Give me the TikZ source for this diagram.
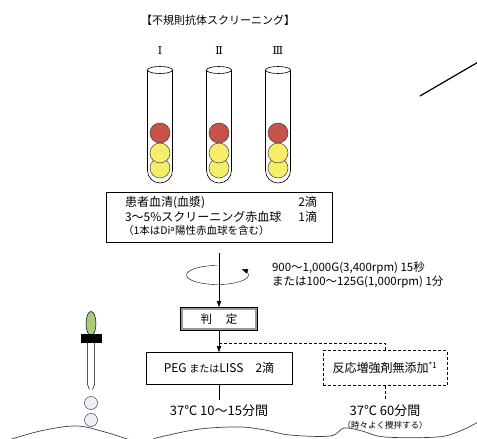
\documentclass[tikz,border=0pt]{standalone}
\usepackage{fontspec}
\setmainfont{Noto Sans CJK JP}
\newfontfamily\numeralfont{DejaVu Serif}
\usetikzlibrary{arrows.meta,fit,positioning,shapes.geometric}
\definecolor{cellred}{RGB}{198,82,72}
\definecolor{cellyellow}{RGB}{246,238,104}
\definecolor{bulbgreen}{RGB}{168,202,122}
\definecolor{dropfill}{RGB}{236,241,247}
\tikzset{
  node distance=0mm,
  >={Triangle[length=6pt,width=4.5pt]},
  every node/.style={outer sep=0mm,inner sep=0mm}
}
\tikzset{listrow/.style={
    text width=196pt,
    minimum height=14pt,
    font=\fontsize{12}{14}\selectfont
  }}
\tikzset{stepbox/.style={
    draw,
    minimum width=#1,
    minimum height=32pt,
    align=center,
    font=\fontsize{12}{14}\selectfont
  },
  stepbox/.default=146pt}
\tikzset{optbox/.style={
    stepbox=#1,
    minimum height=35pt,
    dash pattern=on 3pt off 2pt
  },
  optbox/.default=124pt}
\tikzset{judgebox/.style={
    draw,line width=0.6pt,
    double=black!40,double distance=2pt,
    outer sep=1.6pt,
    minimum width=74.8pt,minimum height=20.8pt,
    font=\fontsize{11.5}{14}\selectfont
  }}
\tikzset{cell/.style={
    circle,draw=black!75,line width=0.5pt,
    fill=#1,minimum size=20pt
  }}
\tikzset{drop/.style={
    circle,draw=black!75,line width=0.5pt,
    fill=dropfill,minimum size=13pt
  }}
\tikzset{note/.style={
    align=#1,
    inner ysep=5pt,
    font=\fontsize{13}{13}\selectfont
  },
  note/.default=center}
\begin{document}
\begin{tikzpicture}[x=1pt,y=1pt]
  \useasboundingbox (0,0) rectangle (477,-439);

  \node (Title) at (218,-20) {\fontsize{11}{13}\selectfont 【不規則抗体スクリーニング】};

  \foreach \x/\n/\r in {160/I/Ⅰ,219/II/Ⅱ,278/III/Ⅲ}{
    \node (Label_\n) at (\x,-50) {\numeralfont\fontsize{11}{13}\selectfont \r};
    \draw [line width=0.6pt,fill=white]
      (\x-12.5,-70) -- (\x-12.5,-170.5)
      arc[start angle=180,end angle=360,radius=12.5]
      -- (\x+12.5,-70);
    \draw [line width=0.6pt] (\x,-70) ellipse[x radius=12.5,y radius=3.5];
    \node (Cell_\n_low) [cell=cellyellow] at (\x,-168) {};
    \node (Cell_\n_mid) [cell=cellyellow] at (\x,-153) {};
    \node (Cell_\n_top) [cell=cellred] at (\x,-133) {};
  }

  \node (Serum) [listrow] at (219,-203) {\hspace*{4pt}患者血清(血漿)\hfill 2滴};
  \node (Screen_cells) [listrow,below=0mm of Serum] {\hspace*{4pt}3～5\%スクリーニング赤血球\hfill 1滴};
  \node (Di_note) [listrow,below=0mm of Screen_cells,font=\fontsize{10.5}{12}\selectfont] {\hspace*{2pt}（1本はDi\textsuperscript{a}陽性赤血球を含む）};
  \node (Serum_box) [draw,line width=0.5pt,inner xsep=15pt,inner ysep=4pt,fit=(Serum) (Di_note)] {};

  \coordinate (Spin_top) at (219,-253);
  \coordinate (Spin_axis) at (217.5,-275);
  \node (Judge) [judgebox,below=54pt of Spin_top] {判\hspace{1.2em}定};
  \draw [->] ([yshift=9.5pt] Spin_axis) arc[start angle=90,end angle=398,x radius=31,y radius=9.5];
  \draw [->] (Spin_top) -- (Judge);
  \node (Spin_note) [note=left,inner ysep=0pt,right=54.5pt of Spin_axis,font=\fontsize{11.5}{14}\selectfont]
    {900～1,000G(3,400rpm) 15秒\\または100～125G(1,000rpm) 1分};

  \node (PEG_box) [stepbox,below=21pt of Judge] {PEG {\fontsize{10}{12}\selectfont または}LISS\hspace{1em}2滴};
  \node (Enhancer_box) [optbox,right=31pt of PEG_box] {反応増強剤無添加\textsuperscript{*1}};
  \coordinate (Branch) at ([yshift=-12pt] Judge.south);
  \draw [->] (Judge) -- (PEG_box);
  \draw [dash pattern=on 3pt off 2pt] (Branch) -| (Enhancer_box.north);

  \node (Incub_short) [note,below=16pt of PEG_box] {37℃ 10～15分間};
  \node (Incub_long) [note,below=14.5pt of Enhancer_box]
    {37℃ 60分間\\{\fontsize{8.5}{10}\selectfont （時々よく攪拌する）}};
  \draw (PEG_box) -- (Incub_short);
  \draw [dash pattern=on 3pt off 2pt] (Enhancer_box) -- (Incub_long);

  \node (Bulb) [ellipse,draw,line width=0.5pt,fill=bulbgreen,minimum width=10pt,minimum height=24pt] at (91,-323.5) {};
  \node (Cap) [draw,fill=black,minimum width=20pt,minimum height=8pt,below=-1pt of Bulb] {};
  \draw [line width=0.5pt] ([xshift=-3.5pt] Cap.south) -- ++(0,-42) -- ++(2,-5);
  \draw [line width=0.5pt] ([xshift=3.5pt] Cap.south) -- ++(0,-42) -- ++(-2,-5);
  \node (Drop_upper) [drop] at (91,-403) {};
  \node (Drop_lower) [drop,below=4pt of Drop_upper] {};

  \draw [line width=0.7pt,black!75] plot[smooth,tension=0.6] coordinates {(-5,-445) (15,-438) (45,-430) (77,-426) (105,-432) (140,-442) (160,-437) (200,-429) (240,-427) (265,-430) (290,-435) (330,-436) (344,-428) (362,-431) (385,-437) (437,-437) (460,-431) (482,-420)};

  \coordinate (Pointer_tail) at (420,-96);
  \coordinate (Pointer_head) at (480,-61);
  \draw [line width=1.2pt] (Pointer_tail) -- (Pointer_head);
\end{tikzpicture}
\end{document}
